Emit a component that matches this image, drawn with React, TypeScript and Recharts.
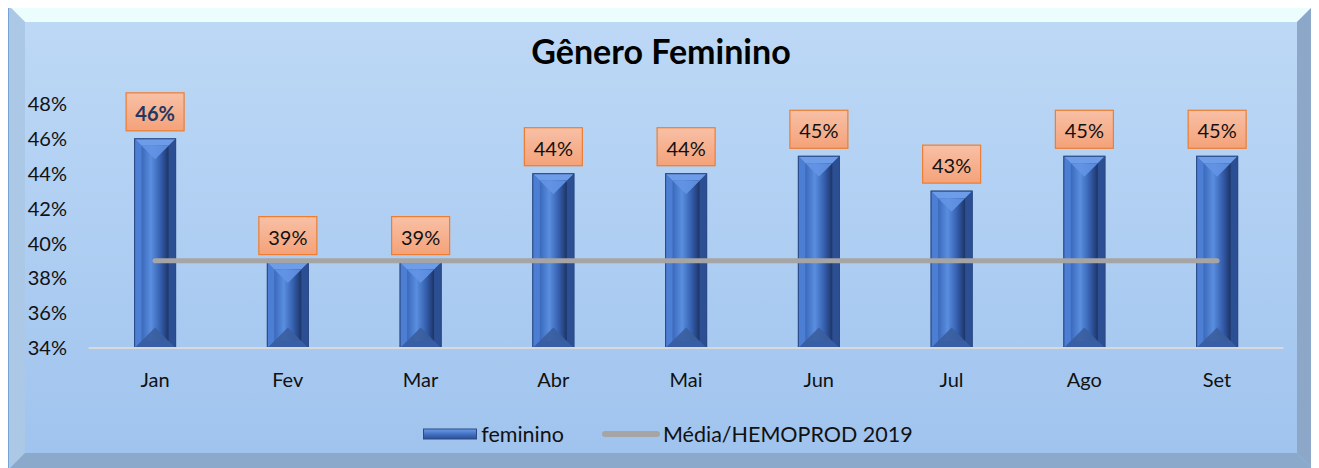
import React from "react";
import { ComposedChart, Bar, Line, XAxis, YAxis, LabelList, Legend } from "recharts";

const months = ["Jan", "Fev", "Mar", "Abr", "Mai", "Jun", "Jul", "Ago", "Set"];
const feminino = [46, 38.9, 38.9, 44, 44, 45, 43, 45, 45];
const media = [39, 39, 39, 39, 39, 39, 39, 39, 39];
const yTicks = [34, 36, 38, 40, 42, 44, 46, 48];

const data = months.map((m, i) => ({ month: m, feminino: feminino[i], media: media[i] }));

const W = 1306;
const H = 465;
const FONT = "Lato, 'Open Sans', sans-serif";

const BarShape = (props: any) => {
  const { x, y, width: w, height: h } = props;
  if (!w || !h) return null;
  const b = 7;
  const t = (w - 2 * b) / 2;
  return (
    <g>
      <rect x={x} y={y} width={w} height={h} fill="url(#barFace)" stroke="#2b4a86" strokeWidth={1} />
      <polygon points={`${x},${y} ${x + w},${y} ${x + w - b},${y + b} ${x + b},${y + b}`} fill="#6d9de9" />
      <polygon points={`${x},${y} ${x + b},${y + b} ${x + b},${y + h - b} ${x},${y + h}`} fill="#4c7ed4" />
      <polygon points={`${x + w},${y} ${x + w},${y + h} ${x + w - b},${y + h - b} ${x + w - b},${y + b}`} fill="#2c4f94" />
      <polygon points={`${x},${y + h} ${x + b},${y + h - b} ${x + w - b},${y + h - b} ${x + w},${y + h}`} fill="#375ea6" />
      <rect x={x + b} y={y + b} width={w - 2 * b} height={h - 2 * b} fill="url(#barInner)" />
      <polygon points={`${x + b},${y + b} ${x + w - b},${y + b} ${x + w / 2},${y + b + t}`} fill="#6394e4" opacity={0.9} />
      <polygon points={`${x + b},${y + h - b} ${x + w - b},${y + h - b} ${x + w / 2},${y + h - b - t}`} fill="#3a5e9e" opacity={0.9} />
      <rect x={x} y={y} width={w} height={h} fill="none" stroke="#2b4a86" strokeWidth={1} />
    </g>
  );
};

const LabelBox = (props: any) => {
  const { x, y, width, value, index } = props;
  const cx = x + width / 2;
  const bw = 58;
  const bh = 38;
  const top = y - 8 - bh;
  const first = index === 0;
  return (
    <g>
      <rect x={cx - bw / 2} y={top} width={bw} height={bh} fill="url(#lblGrad)" stroke="#ed7d31" strokeWidth={1.2} />
      <text
        x={cx}
        y={top + bh / 2 + 1}
        textAnchor="middle"
        dominantBaseline="central"
        fontFamily={FONT}
        fontSize={20}
        fontWeight={first ? 700 : 400}
        fill={first ? "#1f3864" : "#111"}
      >
        {`${Math.round(value)}%`}
      </text>
    </g>
  );
};

const LegendContent = () => (
  <div
    style={{
      display: "flex",
      justifyContent: "center",
      alignItems: "center",
      fontFamily: FONT,
      fontSize: 21.5,
      color: "#111",
      paddingLeft: 14,
    }}
  >
    <svg width={54} height={12} style={{ marginRight: 4 }}>
      <defs>
        <linearGradient id="legBar" x1="0" y1="0" x2="0" y2="1">
          <stop offset="0" stopColor="#6d9de9" />
          <stop offset="0.5" stopColor="#4472c4" />
          <stop offset="1" stopColor="#2c4f94" />
        </linearGradient>
      </defs>
      <rect x={0.5} y={1} width={53} height={10} fill="url(#legBar)" stroke="#2b4a86" />
    </svg>
    <span>feminino</span>
    <svg width={58} height={12} style={{ marginLeft: 38, marginRight: 3 }}>
      <line x1={3} y1={6} x2={55} y2={6} stroke="#a5a5a5" strokeWidth={6} strokeLinecap="round" />
    </svg>
    <span>Média/HEMOPROD 2019</span>
  </div>
);

export default function App() {
  return (
    <div style={{ position: "relative", width: W, height: H, marginTop: -3 }}>
      <svg width={W} height={H} style={{ position: "absolute", left: 0, top: 0 }}>
        <defs>
          <linearGradient id="bgFace" x1="0" y1="0" x2="0" y2="1">
            <stop offset="0" stopColor="#bed9f6" />
            <stop offset="1" stopColor="#9fc3ee" />
          </linearGradient>
        </defs>
        <rect x={0} y={0} width={W} height={H} fill="url(#bgFace)" />
        <polygon points={`0,0 ${W},0 ${W - 17},17 17,17`} fill="#ebfdfd" />
        <polygon points={`0,0 17,17 17,${H - 17} 0,${H}`} fill="#abc8e6" />
        <polygon points={`${W},0 ${W},${H} ${W - 17},${H - 17} ${W - 17},17`} fill="#8ca7c8" />
        <polygon points={`0,${H} 17,${H - 17} ${W - 17},${H - 17} ${W},${H}`} fill="#8aa9cb" />
        <rect x={0.5} y={0.5} width={W - 1} height={H - 1} fill="none" stroke="#77a3d6" strokeWidth={1} />
        <text x={653} y={45} textAnchor="middle" dominantBaseline="central" fontFamily={FONT} fontWeight={700} fontSize={34} fill="#000">
          Gênero Feminino
        </text>
      </svg>
      <div style={{ position: "absolute", left: 0, top: 0 }}>
        <ComposedChart width={W} height={H} data={data} margin={{ top: 99, right: 30.6, bottom: 92, left: 0 }}>
          <defs>
            <linearGradient id="barFace" x1="0" y1="0" x2="1" y2="0">
              <stop offset="0" stopColor="#4a7bd0" />
              <stop offset="1" stopColor="#2c4f94" />
            </linearGradient>
            <linearGradient id="barInner" x1="0" y1="0" x2="1" y2="0">
              <stop offset="0" stopColor="#3b69bb" />
              <stop offset="0.35" stopColor="#5a8edf" />
              <stop offset="0.7" stopColor="#355fae" />
              <stop offset="1" stopColor="#1d3466" />
            </linearGradient>
            <linearGradient id="lblGrad" x1="0" y1="0" x2="0" y2="1">
              <stop offset="0" stopColor="#f8c0a6" />
              <stop offset="1" stopColor="#f4a279" />
            </linearGradient>
          </defs>
          <XAxis
            dataKey="month"
            height={30}
            tickLine={false}
            tickSize={0}
            tickMargin={25}
            axisLine={{ stroke: "#d9d9d9", strokeWidth: 2 }}
            tick={{ fontFamily: FONT, fontSize: 20, fill: "#111" }}
          />
          <YAxis
            domain={[34, 48]}
            ticks={yTicks}
            width={80.6}
            axisLine={false}
            tickLine={false}
            tickSize={0}
            tickMargin={21.6}
            interval={0}
            tickFormatter={(v: number) => `${v}%`}
            tick={{ fontFamily: FONT, fontSize: 20, fill: "#111" }}
          />
          <Bar dataKey="feminino" barSize={41} shape={<BarShape />} isAnimationActive={false}>
            <LabelList dataKey="feminino" content={<LabelBox />} />
          </Bar>
          <Line
            dataKey="media"
            stroke="#a5a5a5"
            strokeWidth={5}
            strokeLinecap="round"
            dot={false}
            activeDot={false}
            isAnimationActive={false}
          />
          <Legend verticalAlign="middle" align="center" content={<LegendContent />} wrapperStyle={{ top: 416, left: 0, width: W }} />
        </ComposedChart>
      </div>
    </div>
  );
}
